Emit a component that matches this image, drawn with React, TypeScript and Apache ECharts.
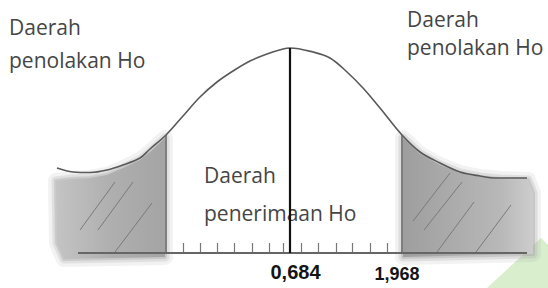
import { useEffect, useRef } from 'react';
import * as echarts from 'echarts';

// Curve (x in px units, y = height above baseline)
const curveX = [57, 73, 90, 107, 123, 140, 150, 166, 183, 200, 217, 233, 250, 267, 283, 290, 313, 330, 347, 363, 380, 402, 420, 440, 460, 480, 497, 527];
const curveY = [85, 81, 80.5, 83, 88, 95, 104, 118, 137, 156, 171, 182, 192, 199, 204, 205, 201, 195, 181, 165, 145, 118, 101, 90, 81, 77, 75, 75];

// Vertical lines: left critical, mean, right critical
const lineX = [166, 290, 402];
const lineTop = [118, 205, 118];

// Baseline extent
const baseX = [78, 527];

// Small ticks on the baseline
const tickX = [183, 200, 217, 234, 252, 269, 283, 301, 318, 336, 352, 370, 387];

// Tick labels
const labelX = [290, 402];
const tickLabels = ['0,684', '1,968'];

// Shaded rejection regions
const leftShade = [[56, 72], [72, 74], [90, 75], [107, 78], [123, 85], [140, 93], [150, 101], [165, 115], [165, -4], [64, -6], [57, 10]];
const rightShade = [[403, 115], [420, 99], [440, 88], [460, 80], [480, 76], [500, 74], [528, 73], [533, 60], [533, -1], [403, -4]];
const shades = [leftShade, rightShade];

// Hatch strokes [x1, y1, x2, y2]
const hatch = [
  [80, 23, 115, 71],
  [98, 23, 133, 71],
  [115, 1, 152, 50],
  [413, 32, 450, 80],
  [424, 23, 462, 71],
  [437, 1, 474, 51],
  [476, 1, 511, 48],
];

export default function App() {
  const ref = useRef<HTMLDivElement>(null);
  useEffect(() => {
    const chart = echarts.init(ref.current!, null, { renderer: 'svg' });
    const textFont = { fontSize: 21, fontFamily: 'Open Sans', fill: '#454545' };
    const numFont = "'Liberation Sans', Arial, sans-serif";
    chart.setOption({
      animation: false,
      backgroundColor: '#ffffff',
      grid: { left: 0, right: 0, top: 0, bottom: 35 },
      xAxis: {
        type: 'value',
        min: 0,
        max: 548,
        splitLine: { show: false },
        axisLine: { show: false },
        axisTick: { show: true, inside: true, length: 10, customValues: tickX, lineStyle: { color: '#777', width: 1.2 } },
        axisLabel: {
          show: true,
          customValues: labelX,
          margin: 9,
          formatter: (v: number) => {
            const i = labelX.indexOf(v);
            return i < 0 ? '' : `{s${i}|${tickLabels[i]}}`;
          },
          rich: {
            s0: { fontSize: 20, fontWeight: 'bold', fontFamily: numFont, color: '#151515', padding: [0, 0, 0, 11] },
            s1: { fontSize: 18, fontWeight: 'bold', fontFamily: numFont, color: '#151515', padding: [3, 10, 0, 0] },
          },
        },
      },
      yAxis: { type: 'value', min: 0, max: 253, show: false },
      graphic: [
        { type: 'polygon', z: -10, shape: { points: [[487, 288], [541, 238], [560, 256], [560, 288]] }, style: { fill: '#d8eecd' } },
        { type: 'text', x: 9, y: 16, style: { text: 'Daerah', ...textFont } },
        { type: 'text', x: 9, y: 49, style: { text: 'penolakan Ho', ...textFont } },
        { type: 'text', x: 407, y: 8, style: { text: 'Daerah', ...textFont } },
        { type: 'text', x: 407, y: 36, style: { text: 'penolakan Ho', ...textFont } },
        { type: 'text', x: 204, y: 164, style: { text: 'Daerah', ...textFont } },
        { type: 'text', x: 204, y: 202, style: { text: 'penerimaan Ho', ...textFont } },
      ],
      series: [
        {
          type: 'custom',
          z: 1,
          silent: true,
          data: shades.map((s) => s[0]),
          renderItem: (params: any, api: any) => {
            const poly = shades[params.dataIndex];
            const pts = poly.map((p) => api.coord(p));
            const left = params.dataIndex === 0;
            const fill = left
              ? new echarts.graphic.LinearGradient(0, 0, 1, 0, [
                  { offset: 0, color: '#c4c4c4' },
                  { offset: 0.5, color: '#afafaf' },
                  { offset: 1, color: '#a4a4a4' },
                ])
              : new echarts.graphic.LinearGradient(0, 0, 1, 0, [
                  { offset: 0, color: '#9e9e9e' },
                  { offset: 0.75, color: '#b8b8b8' },
                  { offset: 1, color: '#cdcdcd' },
                ]);
            const halo = left ? 'rgba(170,170,170,' : 'rgba(165,165,165,';
            return {
              type: 'group',
              children: [
                { type: 'polygon', shape: { points: pts }, style: { fill: 'none', stroke: halo + '0.15)', lineWidth: 16, lineJoin: 'round' } },
                { type: 'polygon', shape: { points: pts }, style: { fill: 'none', stroke: halo + '0.25)', lineWidth: 9, lineJoin: 'round' } },
                { type: 'polygon', shape: { points: pts }, style: { fill: 'none', stroke: halo + '0.4)', lineWidth: 4, lineJoin: 'round' } },
                { type: 'polygon', shape: { points: pts }, style: { fill } },
              ],
            };
          },
        },
        {
          type: 'custom',
          z: 2,
          silent: true,
          data: hatch,
          encode: { x: [0, 2], y: [1, 3] },
          renderItem: (params: any, api: any) => {
            const a = api.coord([api.value(0), api.value(1)]);
            const b = api.coord([api.value(2), api.value(3)]);
            return {
              type: 'line',
              shape: { x1: a[0], y1: a[1], x2: b[0], y2: b[1] },
              style: { stroke: '#7a7a7a', lineWidth: 1 },
            };
          },
        },
        {
          type: 'line',
          z: 3,
          clip: false,
          symbol: 'none',
          smooth: 0.35,
          data: curveX.map((x, i) => [x, curveY[i]]),
          lineStyle: { color: '#595959', width: 1.6 },
        },
        {
          type: 'line',
          z: 3,
          clip: false,
          symbol: 'none',
          data: baseX.map((x) => [x, 0]),
          lineStyle: { color: '#666', width: 2 },
        },
        {
          type: 'custom',
          z: 4,
          silent: true,
          data: lineX.map((x, i) => [x, lineTop[i]]),
          renderItem: (params: any, api: any) => {
            const top = api.coord([api.value(0), api.value(1)]);
            const bot = api.coord([api.value(0), 0]);
            const center = params.dataIndex === 1;
            return {
              type: 'line',
              shape: { x1: top[0], y1: top[1], x2: bot[0], y2: bot[1] },
              style: { stroke: center ? '#111' : '#666', lineWidth: center ? 2.2 : 1.5 },
            };
          },
        },
      ],
    });
    return () => chart.dispose();
  }, []);
  return <div ref={ref} style={{ position: 'fixed', left: 0, top: 0, width: 548, height: 288 }} />;
}
